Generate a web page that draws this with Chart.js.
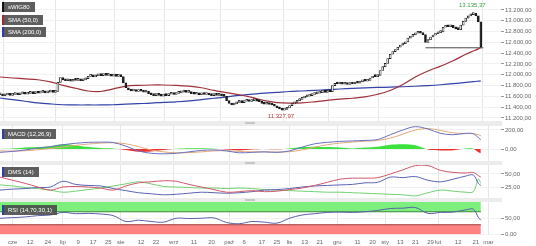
<!DOCTYPE html>
<html lang="pl">
<head>
<meta charset="utf-8">
<title>sWIG80</title>
<script src="https://cdn.jsdelivr.net/npm/chart.js@4.4.1/dist/chart.umd.min.js"></script>
<style>
  html, body { margin: 0; padding: 0; background: #fff; }
  #wrap { position: relative; width: 536px; height: 246px; overflow: hidden; font-family: "Liberation Sans", Arial, sans-serif; }
  #wrap canvas { position: absolute; left: 0; }
  .sep { position: absolute; left: 0; width: 502px; background: #ececec; }
  .sep i { position: absolute; left: 245px; top: 1px; width: 10px; height: 2px; background: #c6c6c6; }
  .tag { position: absolute; left: 2px; height: 10px; line-height: 10px; padding: 0 5px 0 4px; background: rgba(72,72,72,0.88); color: #fff; font-size: 6px; border-left: 2px solid #111; box-sizing: border-box; white-space: nowrap; }
</style>
</head>
<body>
<div id="wrap">
  <canvas id="main" width="536" height="121" style="top:0"></canvas>
  <div class="sep" style="top:121px;height:5px"><i></i></div>
  <canvas id="macd" width="536" height="35" style="top:126px"></canvas>
  <div class="sep" style="top:161px;height:4px"><i></i></div>
  <canvas id="dms" width="536" height="33" style="top:165px"></canvas>
  <div class="sep" style="top:198px;height:4px"><i></i></div>
  <canvas id="rsi" width="536" height="44" style="top:202px"></canvas>

  <div class="tag" style="top:2px;border-left-color:#111">sWIG80</div>
  <div class="tag" style="top:15px;border-left-color:#a02a30">SMA (50,0)</div>
  <div class="tag" style="top:27px;border-left-color:#2f3fa8">SMA (200,0)</div>
  <div class="tag" style="top:129px;border-left-color:#2f3fa8">MACD (12,26,9)</div>
  <div class="tag" style="top:167px;border-left-color:#2f3fa8">DMS (14)</div>
  <div class="tag" style="top:205px;border-left-color:#2f3fa8">RSI (14,70,30,1)</div>
</div>
<script>
// sWIG80, sesje liczone od lewej krawędzi wykresu (slot = jedna sesja)
const closes = [
  11630, 11610, 11625, 11640, 11620, 11635, 11650, 11630, 11645, 11660,
  11640, 11655, 11665, 11650, 11670, 11660, 11675, 11685, 11665, 11680,
  11690, 11675, 11690, 11860, 11950, 11905, 11890, 11910, 11880, 11900,
  11895, 11915, 11890, 11905, 11930, 11970, 11985, 11960, 11980, 12000,
  11985, 12005, 11990, 12010, 11975, 11990, 11970, 11985, 11965, 11850,
  11760, 11720, 11700, 11715, 11690, 11705, 11695, 11680, 11700, 11650,
  11630, 11615, 11640, 11620, 11605, 11625, 11615, 11640, 11650, 11635,
  11655, 11665, 11680, 11690, 11675, 11685, 11650, 11640, 11655, 11630,
  11645, 11635, 11650, 11625, 11615, 11635, 11620, 11630, 11610, 11600,
  11520, 11470, 11440, 11460, 11490, 11500, 11485, 11510, 11525, 11505,
  11520, 11530, 11510, 11500, 11470, 11455, 11465, 11450, 11440, 11420,
  11390, 11370, 11345, 11360, 11385, 11430, 11460, 11490, 11520, 11545,
  11570, 11590, 11605, 11615, 11635, 11645, 11660, 11670, 11680, 11675,
  11690, 11685, 11800, 11840, 11830, 11845, 11825, 11835, 11820, 11840,
  11830, 11850, 11845, 11870, 11885, 11880, 11895, 11940, 11970, 11965,
  11990, 12080, 12150, 12210, 12300, 12380, 12430, 12460, 12510, 12550,
  12575, 12610, 12680, 12710, 12740, 12770, 12790, 12770, 12745, 12600,
  12650, 12700, 12735, 12760, 12780, 12795, 12880, 12900, 12890, 12915,
  12870, 12850, 12835, 12920, 12990, 13050, 13090, 13115, 13140, 13090,
  12980, 12510
];

// wskaźniki odczytane co kilka sesji
const lineSlots = [0, 5, 10, 15, 20, 25, 30, 35, 40, 45, 50, 55, 60, 65, 70, 75, 80, 85, 90, 95,
  100, 105, 110, 115, 120, 125, 130, 135, 140, 145, 150, 155, 160, 165, 170, 175, 180, 185, 188, 190, 191];
const sma50 = [11959, 11940, 11925, 11908, 11870, 11805, 11750, 11700, 11690, 11740, 11790, 11805, 11811, 11811,
  11805, 11790, 11760, 11710, 11670, 11630, 11580, 11520, 11485, 11475, 11480, 11500, 11525, 11550, 11565, 11590,
  11640, 11710, 11820, 11960, 12070, 12160, 12260, 12380, 12440, 12480, 12505];
const sma200 = [11570, 11540, 11510, 11480, 11460, 11445, 11441, 11441, 11441, 11445, 11455, 11465, 11475, 11490,
  11500, 11515, 11540, 11565, 11590, 11620, 11640, 11660, 11675, 11690, 11700, 11712, 11725, 11737, 11748, 11758,
  11765, 11772, 11778, 11788, 11800, 11815, 11835, 11860, 11875, 11882, 11885];
const macdLine = [-35, -25, -10, 10, 25, 45, 60, 70, 72, 68, 30, -20, -45, -50, -45, -30, -15, -10, -20, -40,
  -35, -30, -35, -20, 20, 55, 70, 80, 85, 90, 100, 150, 200, 235, 210, 165, 150, 165, 160, 120, 95];
const macdSignal = [-20, -22, -18, -8, 5, 20, 38, 52, 62, 66, 55, 25, -10, -30, -40, -38, -30, -20, -18, -25,
  -30, -30, -32, -28, -10, 20, 45, 62, 73, 82, 90, 115, 155, 200, 215, 195, 170, 162, 162, 150, 140];
const macdHist = [0, 5, 15, 20, 30, 50, 40, 20, 10, 5, -10, -30, -25, -10, 3, 8, 8, 3, -5, -15,
  -5, 0, -3, 5, 20, 25, 20, 15, 5, 15, 25, 45, 50, 40, -5, -15, -12, 5, 3, -35, -45];
const dmsRed = [44, 38, 32, 25, 19, 25, 26, 25, 23, 19, 27, 33, 35, 37, 36, 30, 25, 20, 15, 16,
  18, 16, 17, 20, 23, 28, 34, 40, 42, 42, 43, 50, 58, 66, 66, 57, 53, 52, 53, 47, 44];
const dmsBlue = [19, 21, 22, 24, 25, 36, 30, 28, 27, 22, 18, 14, 12, 10, 11, 13, 15, 14, 13, 14,
  16, 19, 20, 22, 25, 27, 28, 29, 30, 33, 34, 44, 43, 45, 38, 35, 40, 46, 48, 32, 28];
const dmsGreen = [29, 27, 24, 22, 19, 15, 17, 20, 23, 27, 31, 35, 31, 26, 25, 24, 23, 23, 22, 23,
  22, 20, 19, 18, 17, 16, 15, 15, 14, 13, 12, 11, 10, 8, 14, 19, 17, 15, 16, 40, 32];
const rsi = [50, 52, 54, 58, 60, 68, 64, 65, 63, 58, 40, 44, 40, 38, 50, 49, 50, 51, 37, 33,
  40, 38, 35, 50, 60, 64, 68, 69, 68, 70, 74, 80, 81, 83, 65, 68, 69, 76, 78, 53, 44];

const xTickSlots = [5, 12, 19, 25, 31, 37, 43, 48, 56, 62, 69, 77, 84, 91, 97, 104, 110, 115, 121, 127,
  134, 142, 148, 153, 159, 165, 171, 174, 182, 189, 194];
const xTickLabels = ['cze', '12', '24', 'lip', '9', '17', '25', 'sie', '12', '22', 'wrz', '11', '20', 'paź', '6',
  '17', '25', 'lis', '13', '21', 'gru', '11', '20', 'sty', '13', '21', '29', 'lut', '12', '21', 'mar'];
const monthNames = ['cze', 'lip', 'sie', 'wrz', 'paź', 'lis', 'gru', 'sty', 'lut', 'mar'];

const priceTicks = [11200, 11400, 11600, 11800, 12000, 12200, 12400, 12600, 12800, 13000, 13200];
const macdTicks = [0, 200];
const dmsTicks = [25, 50];
const rsiTicks = [0, 50];

const priceHigh = { slot: 188, value: 13135.37 };
const priceLow = { slot: 112, value: 11327.97 };
const supportLevel = 12500;
const supportFrom = 169;

const FONT = { family: '"Liberation Sans", Arial, sans-serif', size: 6 };
const X_MAX = 199;
const lastSlot = closes.length - 1;

function fmt(v) {
    const [i, d] = Math.abs(v).toFixed(2).split('.');
    return (v < 0 ? '-' : '') + i.replace(/\B(?=(\d{3})+$)/g, '.') + ',' + d;
}

const pts = vals => lineSlots.map((s, i) => ({ x: s, y: vals[i] }));

function line(vals, color, width) {
    return {
        type: 'line', data: pts(vals), borderColor: color, borderWidth: width || 1,
        pointRadius: 0, tension: 0.35, fill: false, order: 1
    };
}

function makePanel(id, datasets, yMin, yMax, yTicks, showDates, plugins) {
    return new Chart(document.getElementById(id), {
        type: 'line',
        data: { datasets },
        plugins: plugins || [],
        options: {
            responsive: false,
            animation: false,
            events: [],
            layout: { padding: 0 },
            plugins: { legend: { display: false }, tooltip: { enabled: false } },
            scales: {
                x: {
                    type: 'linear', min: 0, max: X_MAX, offset: false,
                    border: { display: false },
                    grid: {
                        drawTicks: false,
                        color: c => c.tick && monthNames.includes(xTickLabels[xTickSlots.indexOf(c.tick.value)]) ? '#e6e6e6' : 'rgba(0,0,0,0)'
                    },
                    afterBuildTicks: ax => { ax.ticks = xTickSlots.map(v => ({ value: v })); },
                    afterFit: ax => {
                        ax.paddingLeft = 0; ax.paddingRight = 0;
                        ax.height = showDates ? 11.5 : 0;
                    },
                    ticks: {
                        display: showDates, autoSkip: false, maxRotation: 0, padding: 4,
                        font: FONT, color: '#666',
                        callback: v => xTickLabels[xTickSlots.indexOf(v)]
                    }
                },
                y: {
                    type: 'linear', position: 'right', min: yMin, max: yMax,
                    border: { display: false },
                    grid: { color: '#f1f1f1', tickColor: '#999', tickLength: 3 },
                    afterBuildTicks: ax => { ax.ticks = yTicks.map(v => ({ value: v })); },
                    afterFit: ax => { ax.width = 35; ax.paddingTop = 0; ax.paddingBottom = 0; },
                    ticks: { font: FONT, color: '#666', padding: 1, callback: v => fmt(v) }
                }
            }
        }
    });
}

// etykiety maksimum i minimum
const extremesPlugin = {
    id: 'extremes',
    afterDatasetsDraw(chart) {
        const { ctx, scales: { x, y } } = chart;
        ctx.save();
        ctx.font = '6px "Liberation Sans", Arial, sans-serif';
        ctx.textAlign = 'center';
        ctx.fillStyle = '#3d9b46';
        ctx.textBaseline = 'bottom';
        ctx.fillText(fmt(priceHigh.value), x.getPixelForValue(priceHigh.slot) - 1, y.getPixelForValue(priceHigh.value) - 5);
        ctx.fillStyle = '#b8383a';
        ctx.textBaseline = 'top';
        ctx.fillText(fmt(priceLow.value), x.getPixelForValue(priceLow.slot) - 1, y.getPixelForValue(priceLow.value) + 2);
        ctx.restore();
    }
};

const candles = closes.map((c, i) => ({ x: i, y: [i ? closes[i - 1] : c, c] }));

makePanel('main', [
    {
        type: 'bar', data: candles, order: 0,
        backgroundColor: candles.map(d => d.y[1] >= d.y[0] ? '#ffffff' : '#1a1a1a'),
        borderColor: '#1a1a1a', borderWidth: 0.8, borderSkipped: false,
        barThickness: 2, minBarLength: 2
    },
    line(sma50, '#a0303a', 1.2),
    line(sma200, '#3242a8', 1.2),
    {
        type: 'line', data: [{ x: supportFrom, y: supportLevel }, { x: lastSlot + 1, y: supportLevel }],
        borderColor: '#4a4a4a', borderWidth: 1, pointRadius: 0, order: 2
    }
], 11144, 13385, priceTicks, false, [extremesPlugin]);

makePanel('macd', [
    {
        type: 'line', data: pts(macdHist), borderWidth: 0, pointRadius: 0, tension: 0.3, order: 2,
        fill: { target: 'origin', above: 'rgba(40,222,40,0.9)', below: 'rgba(232,30,30,0.9)' }
    },
    line(macdLine, '#6a6fc2', 1),
    line(macdSignal, '#e2aa78', 1)
], -126, 242, macdTicks, false);

makePanel('dms', [
    line(dmsRed, '#d0566a', 1),
    line(dmsBlue, '#5a62b4', 1),
    line(dmsGreen, '#70d070', 1)
], 3.85, 67.3, dmsTicks, false);

makePanel('rsi', [
    {
        type: 'line', data: [{ x: 0, y: 70 }, { x: lastSlot, y: 70 }], order: 2,
        borderColor: '#3a8a3a', borderWidth: 1, backgroundColor: '#7def7d', pointRadius: 0, fill: { value: 100 }
    },
    {
        type: 'line', data: [{ x: 0, y: 30 }, { x: lastSlot, y: 30 }], order: 2,
        borderColor: '#a03838', borderWidth: 1, backgroundColor: '#ff8282', pointRadius: 0, fill: { value: 0 }
    },
    Object.assign(line(rsi, '#5a60a8', 1), { order: 0 })
], 0, 100, rsiTicks, true);
</script>
</body>
</html>
